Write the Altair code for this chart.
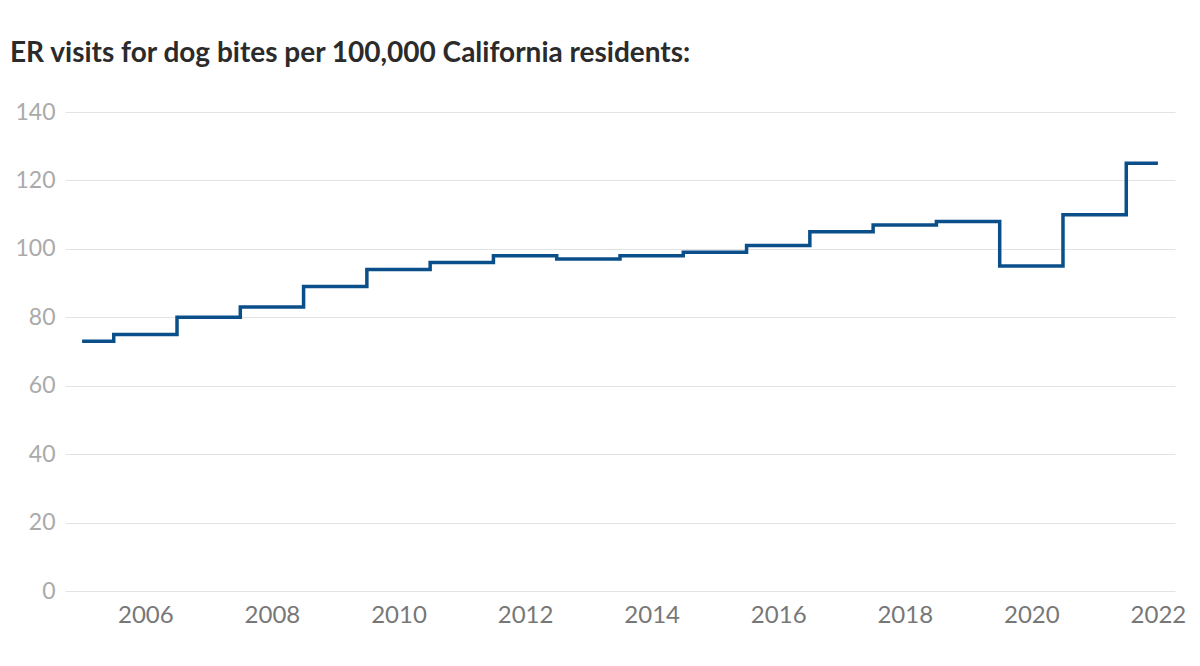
import altair as alt
import pandas as pd

years = list(range(2005, 2023))
visits = [73, 75, 80, 83, 89, 94, 96, 98, 97, 98, 99, 101, 105, 107, 108, 95, 110, 125]

df = pd.DataFrame({"year": years, "visits": visits})

chart = (
    alt.Chart(df)
    .mark_line(interpolate="step", color="#0b4f8a", strokeWidth=3.5)
    .encode(
        x=alt.X(
            "year:Q",
            title=None,
            scale=alt.Scale(domain=[2004.73, 2022.27], nice=False, zero=False),
            axis=alt.Axis(values=list(range(2006, 2023, 2)), format="d", grid=False,
                          domain=False, ticks=False, labelFontSize=24,
                          labelColor="#777777", labelPadding=12, labelFont="Lato"),
        ),
        y=alt.Y(
            "visits:Q",
            title=None,
            scale=alt.Scale(domain=[0, 140]),
            axis=alt.Axis(values=list(range(0, 141, 20)), domain=False, ticks=False,
                          gridColor="#e3e3e3", labelFontSize=23, labelColor="#aaaaaa",
                          labelPadding=10, labelFont="Lato"),
        ),
    )
    .properties(
        width=1110,
        height=479,
        autosize=alt.AutoSizeParams(type="none"),
        padding={"left": 57, "top": 104, "right": 17, "bottom": 60},
        title=alt.TitleParams(
            "ER visits for dog bites per 100,000 California residents:",
            anchor="start", frame="group", dx=-55, offset=33,
            fontSize=28, font="Lato", fontWeight="bold", color="#2b2b2b",
        ),
    )
    .configure_view(stroke=None)
)

chart.save("out.html", embed_options={"renderer": "svg", "actions": False})
